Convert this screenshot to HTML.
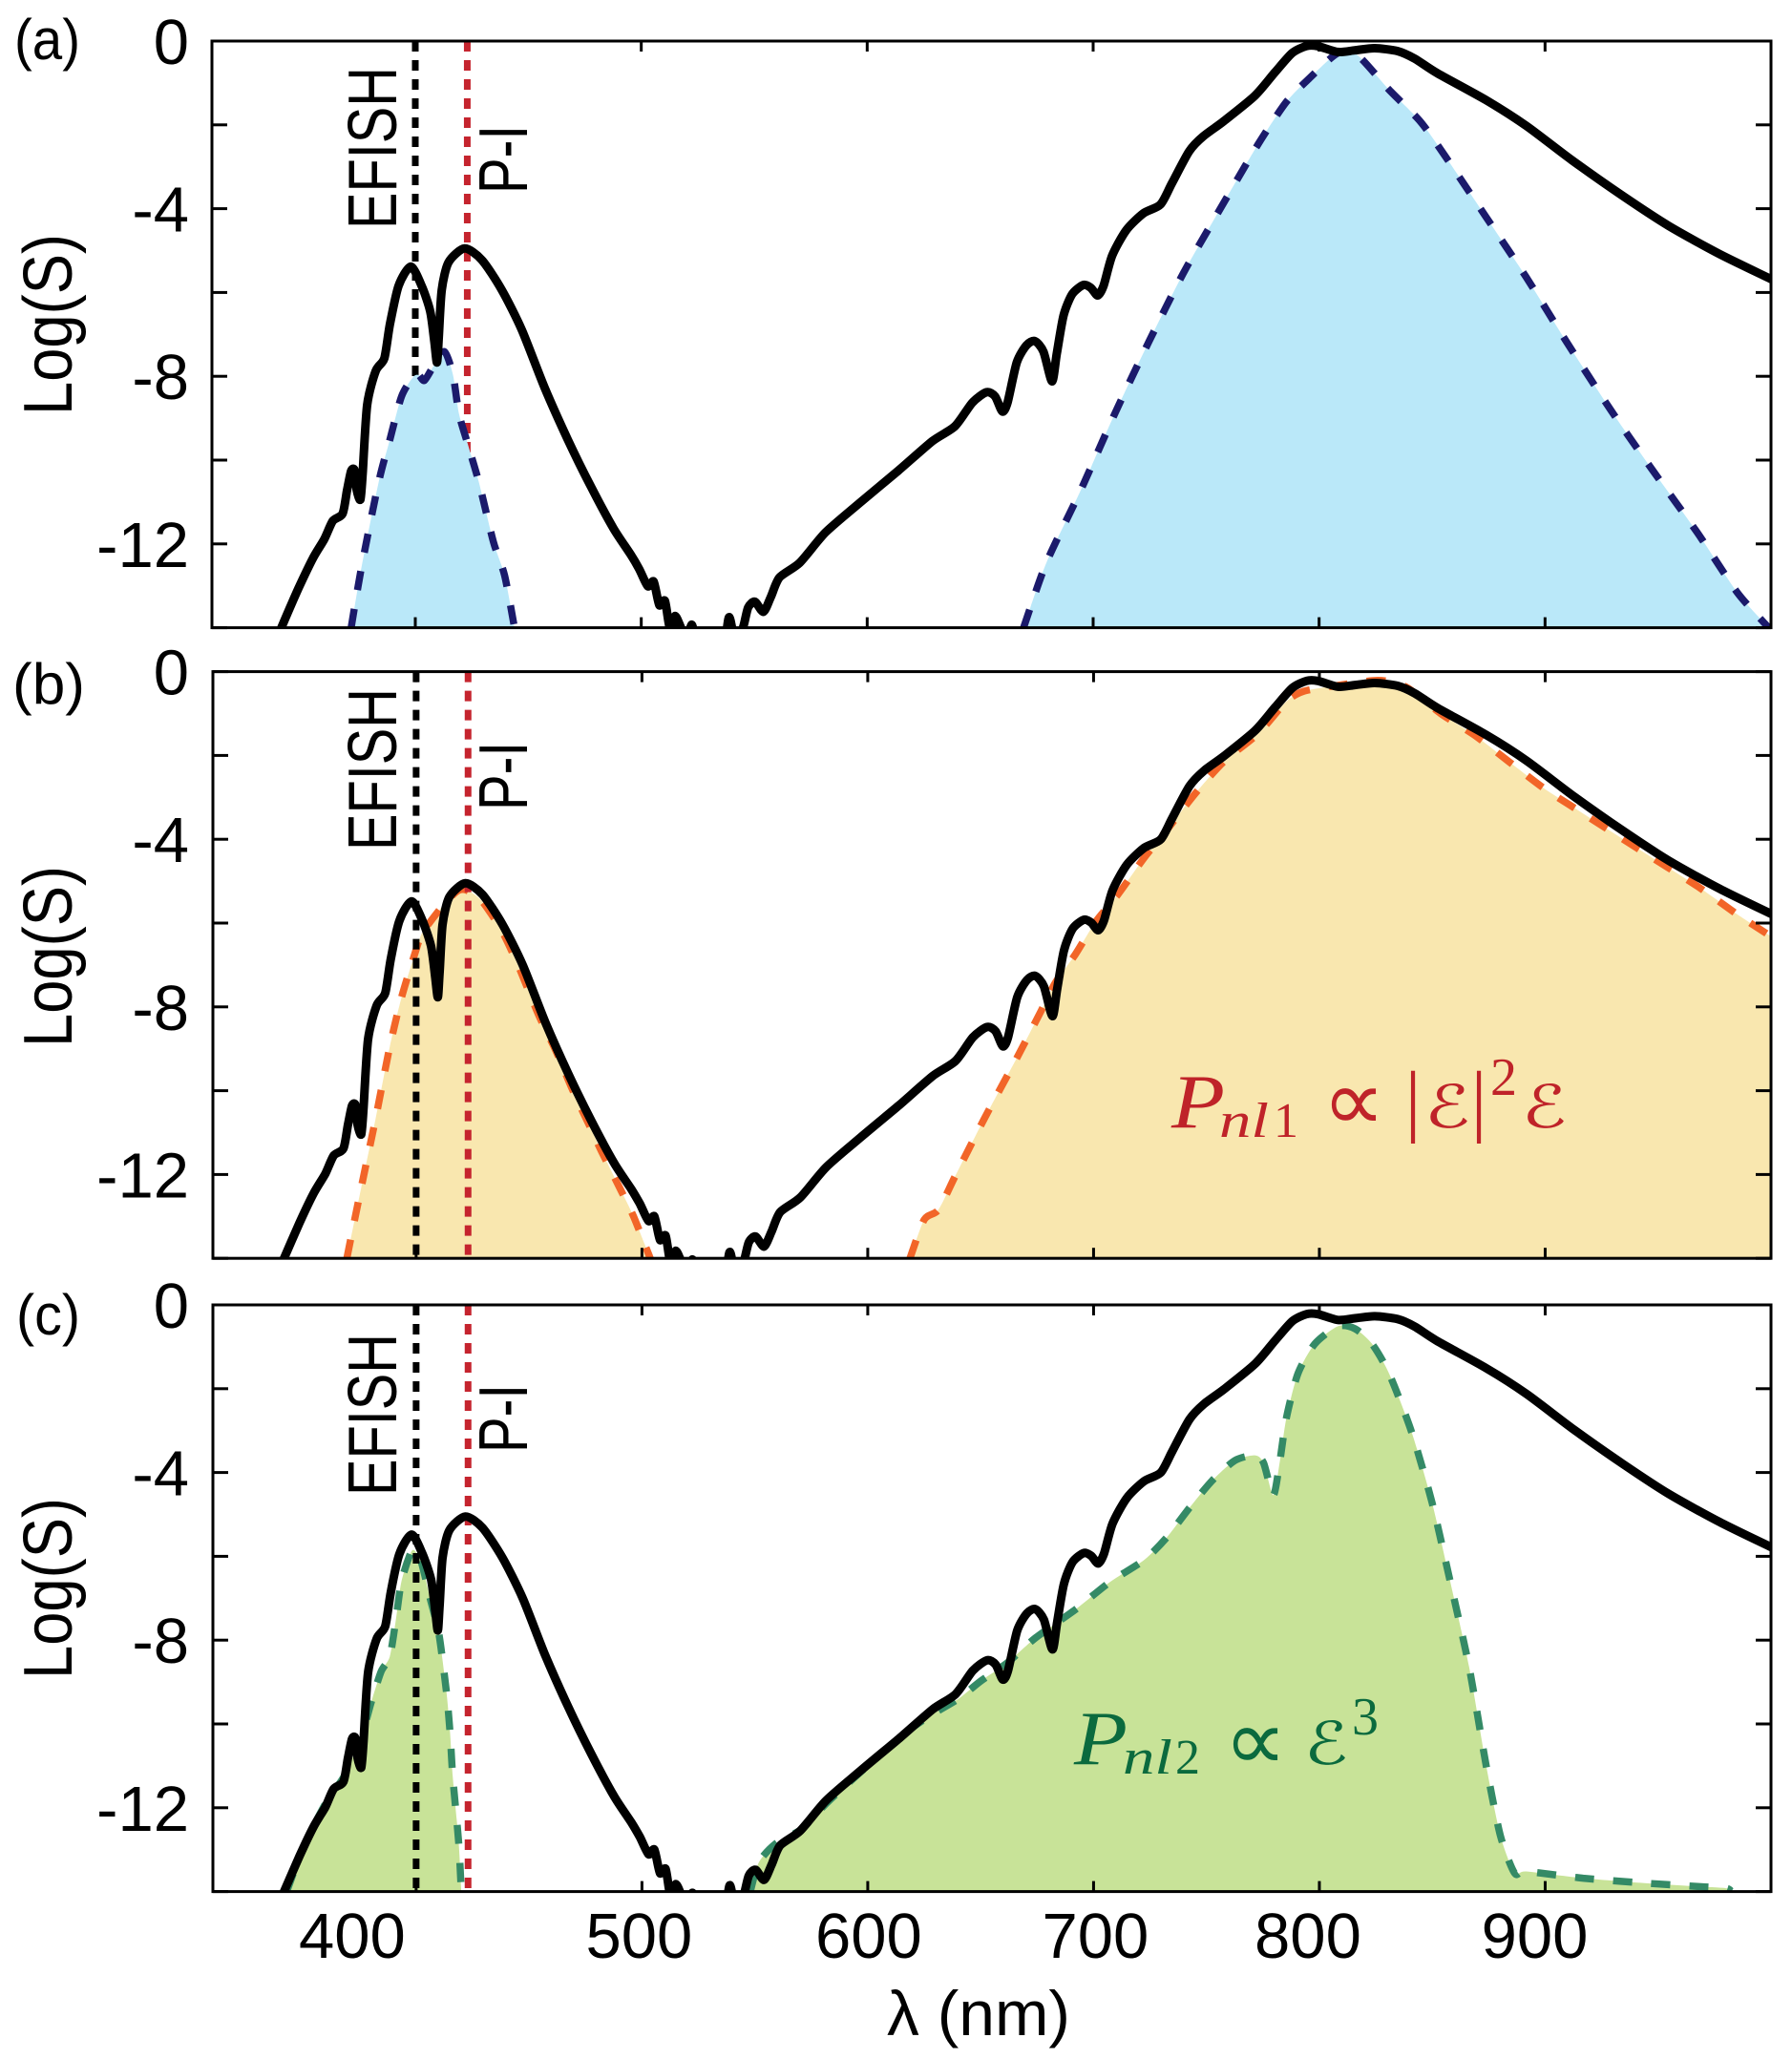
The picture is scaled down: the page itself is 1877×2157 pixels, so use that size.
<!DOCTYPE html>
<html>
<head>
<meta charset="utf-8">
<title>Spectra</title>
<style>
html,body{margin:0;padding:0;background:#fff;}
svg{display:block;}
text{font-family:"Liberation Sans",sans-serif;fill:#000;}
.tick{font-size:67px;}
.ylab{font-size:72px;}
.plab{font-size:60px;}
.vlab{font-size:72px;}
.eq{font-family:"Liberation Serif",serif;}
.sym{font-family:"DejaVu Sans",sans-serif;}
.red text{fill:#bf2329;}
.grn text{fill:#0b6a3e;}
</style>
</head>
<body>
<svg id="chart" xmlns="http://www.w3.org/2000/svg" width="1877" height="2157" viewBox="0 0 1877 2157">
<rect width="1877" height="2157" fill="#fff"/>
<defs id="defs"></defs>
<g id="marks"></g>

<g>
<text class="plab" x="15" y="62" textLength="69" lengthAdjust="spacingAndGlyphs">(a)</text>
<text class="ylab" text-anchor="middle" transform="translate(75,340) rotate(-90)" textLength="190" lengthAdjust="spacingAndGlyphs">Log(S)</text>
<text class="vlab" text-anchor="middle" transform="translate(415,155) rotate(-90)" textLength="170" lengthAdjust="spacingAndGlyphs">EFISH</text>
<text class="vlab" text-anchor="middle" transform="translate(552,167) rotate(-90)" textLength="72" lengthAdjust="spacingAndGlyphs">P-I</text>
</g>

<g>
<text class="plab" x="13" y="737" textLength="76" lengthAdjust="spacingAndGlyphs">(b)</text>
<text class="ylab" text-anchor="middle" transform="translate(75,1002) rotate(-90)" textLength="190" lengthAdjust="spacingAndGlyphs">Log(S)</text>
<text class="vlab" text-anchor="middle" transform="translate(415,806) rotate(-90)" textLength="170" lengthAdjust="spacingAndGlyphs">EFISH</text>
<text class="vlab" text-anchor="middle" transform="translate(552,813) rotate(-90)" textLength="72" lengthAdjust="spacingAndGlyphs">P-I</text>
</g>

<g>
<text class="plab" x="17" y="1398" textLength="67" lengthAdjust="spacingAndGlyphs">(c)</text>
<text class="ylab" text-anchor="middle" transform="translate(75,1664) rotate(-90)" textLength="190" lengthAdjust="spacingAndGlyphs">Log(S)</text>
<text class="vlab" text-anchor="middle" transform="translate(415,1482) rotate(-90)" textLength="170" lengthAdjust="spacingAndGlyphs">EFISH</text>
<text class="vlab" text-anchor="middle" transform="translate(552,1486) rotate(-90)" textLength="72" lengthAdjust="spacingAndGlyphs">P-I</text>
<text x="1025" y="2132" font-size="66" text-anchor="middle" textLength="192" lengthAdjust="spacingAndGlyphs">λ (nm)</text>
</g>

<g class="red">
<text class="eq" x="1227" y="1181" font-size="80" font-style="italic" textLength="56" lengthAdjust="spacingAndGlyphs">P</text>
<text class="eq" x="1277" y="1191" font-size="52" font-style="italic" textLength="52" lengthAdjust="spacingAndGlyphs">nl</text>
<text class="eq" x="1334" y="1191" font-size="52">1</text>
<text class="sym" x="1385" y="1184" font-size="90" textLength="66" lengthAdjust="spacingAndGlyphs">∝</text>
<text class="eq" x="1471.6" y="1180" font-size="84">|</text>
<text class="sym" x="1492" y="1181" font-size="62" font-style="italic" textLength="48" lengthAdjust="spacingAndGlyphs">ℰ</text>
<text class="eq" x="1540.6" y="1180" font-size="84">|</text>
<text class="eq" x="1561" y="1147" font-size="56">2</text>
<text class="sym" x="1594" y="1181" font-size="62" font-style="italic" textLength="47" lengthAdjust="spacingAndGlyphs">ℰ</text>
</g>

<g class="grn">
<text class="eq" x="1125" y="1848" font-size="80" font-style="italic" textLength="56" lengthAdjust="spacingAndGlyphs">P</text>
<text class="eq" x="1176" y="1858" font-size="52" font-style="italic" textLength="52" lengthAdjust="spacingAndGlyphs">nl</text>
<text class="eq" x="1231" y="1858" font-size="52">2</text>
<text class="sym" x="1282" y="1854" font-size="90" textLength="66" lengthAdjust="spacingAndGlyphs">∝</text>
<text class="sym" x="1366" y="1848" font-size="62" font-style="italic" textLength="46" lengthAdjust="spacingAndGlyphs">ℰ</text>
<text class="eq" x="1416" y="1817" font-size="56">3</text>
</g>
</svg>

<script>
// ---- axis ticks ----
const xTickValues = [400, 500, 600, 700, 800, 900];
const xTickText = ['400', '500', '600', '700', '800', '900'];
const xLabelNudge = [-67, -3, 1, 2, -12, -11];
const yTickValues = [0, -2, -4, -6, -8, -10, -12, -14];
const yLabelValues = [0, -4, -8, -12];
const yLabelText = ['0', '-4', '-8', '-12'];

// ---- marker wavelengths (nm) ----
const efishNm = 400;
const piNm = 423;

// ---- black measured spectrum ----
const spectrumNm = [340.7,348.3,354.6,359.7,363.5,367.8,369.8,371.6,373.1,374.1,375.7,376.7,378.7,382.5,386.3,388.8,392.6,398,402.8,406.6,408.4,409.6,410.4,411.7,414.7,421.8,429.4,438.3,447.2,457.3,467.4,477.6,487.7,495.3,499.1,502.9,505.5,508,510.5,512.6,515,517.6,520,522.4,525,536,538.9,541.5,545,547.3,550.3,554.1,557.4,561.2,570.1,581.5,596.7,613.8,628.8,638.9,646.5,652.8,656.6,659.8,662.1,666.2,670.5,674.2,678,681.8,683.9,686.9,690.7,695.7,699,702,704.6,708.4,714.7,722.3,729.8,734.9,742.5,748.8,757.6,771.5,780.4,788,794.3,799.3,808.2,815.8,824.6,834.7,842.3,852.4,873.9,891.6,911.8,934.5,954.7,977.5,1000];
const spectrumLog = [-14,-13.06,-12.35,-11.89,-11.45,-11.28,-10.72,-10.26,-10.24,-10.72,-10.94,-10.31,-8.68,-7.87,-7.57,-6.75,-5.84,-5.38,-5.84,-6.45,-7.16,-7.67,-7.06,-5.94,-5.28,-4.95,-5.22,-5.94,-6.9,-8.28,-9.5,-10.62,-11.63,-12.25,-12.6,-13.01,-12.9,-13.46,-13.36,-14,-13.72,-14,-14.3,-13.93,-14.4,-14.4,-13.75,-14.3,-14,-13.52,-13.38,-13.62,-13.26,-12.8,-12.45,-11.73,-11.02,-10.25,-9.55,-9.19,-8.63,-8.38,-8.48,-8.84,-8.63,-7.67,-7.26,-7.16,-7.41,-8.12,-7.46,-6.55,-6.04,-5.82,-5.89,-6.07,-5.84,-5.12,-4.51,-4.11,-3.9,-3.39,-2.63,-2.27,-1.92,-1.31,-0.75,-0.29,-0.12,-0.12,-0.26,-0.22,-0.17,-0.24,-0.42,-0.77,-1.41,-2.02,-2.84,-3.7,-4.41,-5.09,-5.68];
const spectrumShift = [0, -0.1, -0.1];

// ---- panel (a) simulated, blue ----
const a1Nm = [371.6,376.2,383.8,388.8,393.9,399,401.5,404,407.9,412.9,416.7,419.3,423.1,428.1,434.5,439.5,443.9];
const a1Log = [-14,-12.55,-10.52,-9.5,-8.48,-8.02,-7.97,-8.1,-7.77,-7.41,-7.97,-8.89,-9.6,-10.52,-11.94,-12.75,-14];
const a2Nm = [669.2,679.3,694.5,709.6,724.8,740,755.1,772.8,785.4,795.5,808.2,817,830.9,844.8,856.2,873.9,891.6,909.3,929.5,947.2,967.4,985.1,999];
const a2Log = [-14,-12.45,-10.72,-8.89,-7.16,-5.53,-4.11,-2.48,-1.46,-0.9,-0.29,-0.34,-1.16,-1.92,-2.78,-4.2,-5.63,-7.16,-8.84,-10.21,-11.73,-13.16,-14];

// ---- panel (b) simulated, orange ----
const b1Nm = [369.3,375.7,382,388.3,393.4,398.5,402.3,406.1,410.1,413.7,418.8,422.6,428.9,437.8,445.4,454.2,461.9,469.5,477.1,482.1,491,496.1,501.1,503.7];
const b1Log = [-14,-12.31,-10.68,-8.96,-7.8,-6.89,-6.27,-5.98,-5.7,-5.46,-5.22,-5.22,-5.46,-6.17,-7.04,-8.19,-9.05,-10.01,-10.87,-11.45,-12.41,-12.98,-13.65,-14];
const b2Nm = [618.7,625,631.3,638.9,651.5,666.7,676.8,683.1,691.9,700.8,710.9,722.3,732.4,745,757.6,772.8,785.4,793,805.6,825.9,838.5,853.7,868.8,884,899.1,914.3,942.1,967.4,985,1000];
const b2Log = [-14,-13.08,-12.84,-12.02,-10.68,-9.15,-8.09,-7.42,-6.75,-5.98,-5.31,-4.45,-3.78,-2.91,-2.15,-1.48,-0.71,-0.47,-0.35,-0.21,-0.37,-1,-1.52,-2.15,-2.77,-3.3,-4.26,-5.12,-5.79,-6.32];

// ---- panel (c) simulated, green ----
const c1Nm = [342.7,350.3,360.5,368.1,375.7,380.2,384.5,388.3,390.9,393.4,397.2,399,402.3,406.1,410.1,413.4,415,416.2,418.8,420];
const c1Log = [-14,-12.91,-11.84,-11.25,-10.3,-9.47,-8.75,-8.4,-7.57,-6.62,-5.97,-5.85,-6.14,-6.98,-7.86,-9.23,-10.18,-11.25,-12.79,-14];
const c2Nm = [548,551.8,559.4,570.9,583.5,613.5,626.2,640.1,650.2,661.6,674.2,691.9,707.1,722.3,732.4,742.5,752.6,762.7,771.5,775.3,779.6,782.4,785.4,790.5,798,808.2,815.8,823.3,830.9,841,849.9,857.5,866.3,873.9,880.2,886.5,891.6,916.8,942.1,967.4,980,982.5];
const c2Log = [-14,-13.3,-12.85,-12.5,-11.8,-10.35,-9.85,-9.4,-8.97,-8.55,-7.95,-7.27,-6.62,-6.09,-5.55,-4.84,-4.19,-3.71,-3.59,-3.77,-4.54,-3.77,-2.7,-1.64,-0.93,-0.51,-0.57,-0.93,-1.64,-3.06,-4.72,-6.5,-8.64,-11,-12.67,-13.56,-13.52,-13.68,-13.79,-13.88,-13.92,-14];

// ---- layout ----
const NS = 'http://www.w3.org/2000/svg';
const marks = document.getElementById('marks');
const defs = document.getElementById('defs');
const panelNames = ['a', 'b', 'c'];
const panelTops = [43, 703.6, 1367];
const panelLefts = [222, 223, 223];
const panelRight = 1855;
const panelHeight = 614.6;
const xMin = 310, xMax = 1000, yMin = -14, yMax = 0;

const panelLobes = [
  {lobes: [[a1Nm, a1Log], [a2Nm, a2Log]], fill: '#bae8f9', dash: '#1b1a6b'},
  {lobes: [[b1Nm, b1Log], [b2Nm, b2Log]], fill: '#f9e7af', dash: '#f26528'},
  {lobes: [[c1Nm, c1Log], [c2Nm, c2Log]], fill: '#c8e398', dash: '#348a66'}
];

function smoothPath(pts) {
  let d = 'M' + pts[0][0].toFixed(1) + ' ' + pts[0][1].toFixed(1);
  for (let i = 0; i < pts.length - 1; i++) {
    const p0 = pts[Math.max(i - 1, 0)], p1 = pts[i], p2 = pts[i + 1], p3 = pts[Math.min(i + 2, pts.length - 1)];
    const k = 8;
    d += 'C' + (p1[0] + (p2[0] - p0[0]) / k).toFixed(1) + ' ' + (p1[1] + (p2[1] - p0[1]) / k).toFixed(1) +
         ' ' + (p2[0] - (p3[0] - p1[0]) / k).toFixed(1) + ' ' + (p2[1] - (p3[1] - p1[1]) / k).toFixed(1) +
         ' ' + p2[0].toFixed(1) + ' ' + p2[1].toFixed(1);
  }
  return d;
}

function makeEl(parent, tag) {
  const el = document.createElementNS(NS, tag);
  parent.appendChild(el);
  return el;
}

panelNames.forEach(function (name, p) {
  const top = panelTops[p], left = panelLefts[p], bottom = top + panelHeight;
  const xScale = function (v) { return left + (v - xMin) / (xMax - xMin) * (panelRight - left); };
  const yScale = function (v) { return top + (yMax - v) / (yMax - yMin) * panelHeight; };

  const clip = makeEl(defs, 'clipPath');
  clip.setAttribute('id', 'clip-' + name);
  const clipRect = makeEl(clip, 'rect');
  clipRect.setAttribute('x', left);
  clipRect.setAttribute('y', top);
  clipRect.setAttribute('width', panelRight - left);
  clipRect.setAttribute('height', panelHeight);

  const g = makeEl(marks, 'g');
  
  
  g.setAttribute('clip-path', 'url(#clip-' + name + ')');

  function drawMarkers() {
    [[efishNm, '#000', 'efish-line'], [piNm, '#c5242e', 'pi-line']].forEach(function (m) {
      const ln = makeEl(g, 'line');
      
      
      ln.setAttribute('x1', xScale(m[0]));
      ln.setAttribute('x2', xScale(m[0]));
      ln.setAttribute('y1', top);
      ln.setAttribute('y2', bottom);
      ln.setAttribute('stroke', m[1]);
      ln.setAttribute('stroke-width', '7');
      ln.setAttribute('stroke-dasharray', '11 9');
    });
  }

  function drawLobes() {
    const cfg = panelLobes[p];
    cfg.lobes.forEach(function (lobe) {
      const pts = lobe[0].map(function (nm, i) { return [xScale(nm), yScale(lobe[1][i])]; });
      const d = smoothPath(pts);
      const area = makeEl(g, 'path');
      
      
      area.setAttribute('d', d + 'L' + pts[pts.length - 1][0].toFixed(1) + ' ' + bottom + 'L' + pts[0][0].toFixed(1) + ' ' + bottom + 'Z');
      area.setAttribute('fill', cfg.fill);
      const dash = makeEl(g, 'path');
      
      
      dash.setAttribute('d', d);
      dash.setAttribute('fill', 'none');
      dash.setAttribute('stroke', cfg.dash);
      dash.setAttribute('stroke-width', '7.5');
      dash.setAttribute('stroke-dasharray', '20 20');
    });
  }

  if (p === 0) { drawMarkers(); drawLobes(); } else { drawLobes(); drawMarkers(); }

  const blackPts = spectrumNm.map(function (nm, i) { return [xScale(nm), yScale(spectrumLog[i] + spectrumShift[p])]; });
  const black = makeEl(g, 'path');
  
  
  black.setAttribute('d', smoothPath(blackPts));
  black.setAttribute('fill', 'none');
  black.setAttribute('stroke', '#000');
  black.setAttribute('stroke-width', '9');
  black.setAttribute('stroke-linejoin', 'round');
  black.setAttribute('stroke-linecap', 'round');

  const frame = makeEl(marks, 'rect');
  
  
  frame.setAttribute('x', left);
  frame.setAttribute('y', top);
  frame.setAttribute('width', panelRight - left);
  frame.setAttribute('height', panelHeight);
  frame.setAttribute('fill', 'none');
  frame.setAttribute('stroke', '#000');
  frame.setAttribute('stroke-width', '3');

  function tick(x1, y1, x2, y2, tickName) {
    const t = makeEl(marks, 'line');
    
    
    t.setAttribute('x1', x1);
    t.setAttribute('y1', y1);
    t.setAttribute('x2', x2);
    t.setAttribute('y2', y2);
    t.setAttribute('stroke', '#000');
    t.setAttribute('stroke-width', '3');
  }

  xTickValues.forEach(function (v) {
    tick(xScale(v), top, xScale(v), top + 11, 'x-tick-top');
    tick(xScale(v), bottom, xScale(v), bottom - 11, 'x-tick-bottom');
  });
  yTickValues.forEach(function (v) {
    tick(left, yScale(v), left + 16, yScale(v), 'y-tick-left');
    tick(panelRight, yScale(v), panelRight - 16, yScale(v), 'y-tick-right');
  });

  yLabelValues.forEach(function (v, i) {
    const t = makeEl(marks, 'text');
    
    
    t.setAttribute('class', 'tick');
    t.setAttribute('x', 198);
    t.setAttribute('y', yScale(v) + 24);
    t.setAttribute('text-anchor', 'end');
    t.textContent = yLabelText[i];
  });

  if (p === 2) {
    xTickValues.forEach(function (v, i) {
      const t = makeEl(marks, 'text');
      
      
      t.setAttribute('class', 'tick');
      t.setAttribute('x', xScale(v) + xLabelNudge[i]);
      t.setAttribute('y', 2051);
      t.setAttribute('text-anchor', 'middle');
      t.textContent = xTickText[i];
    });
  }
});
</script>
</body>
</html>
